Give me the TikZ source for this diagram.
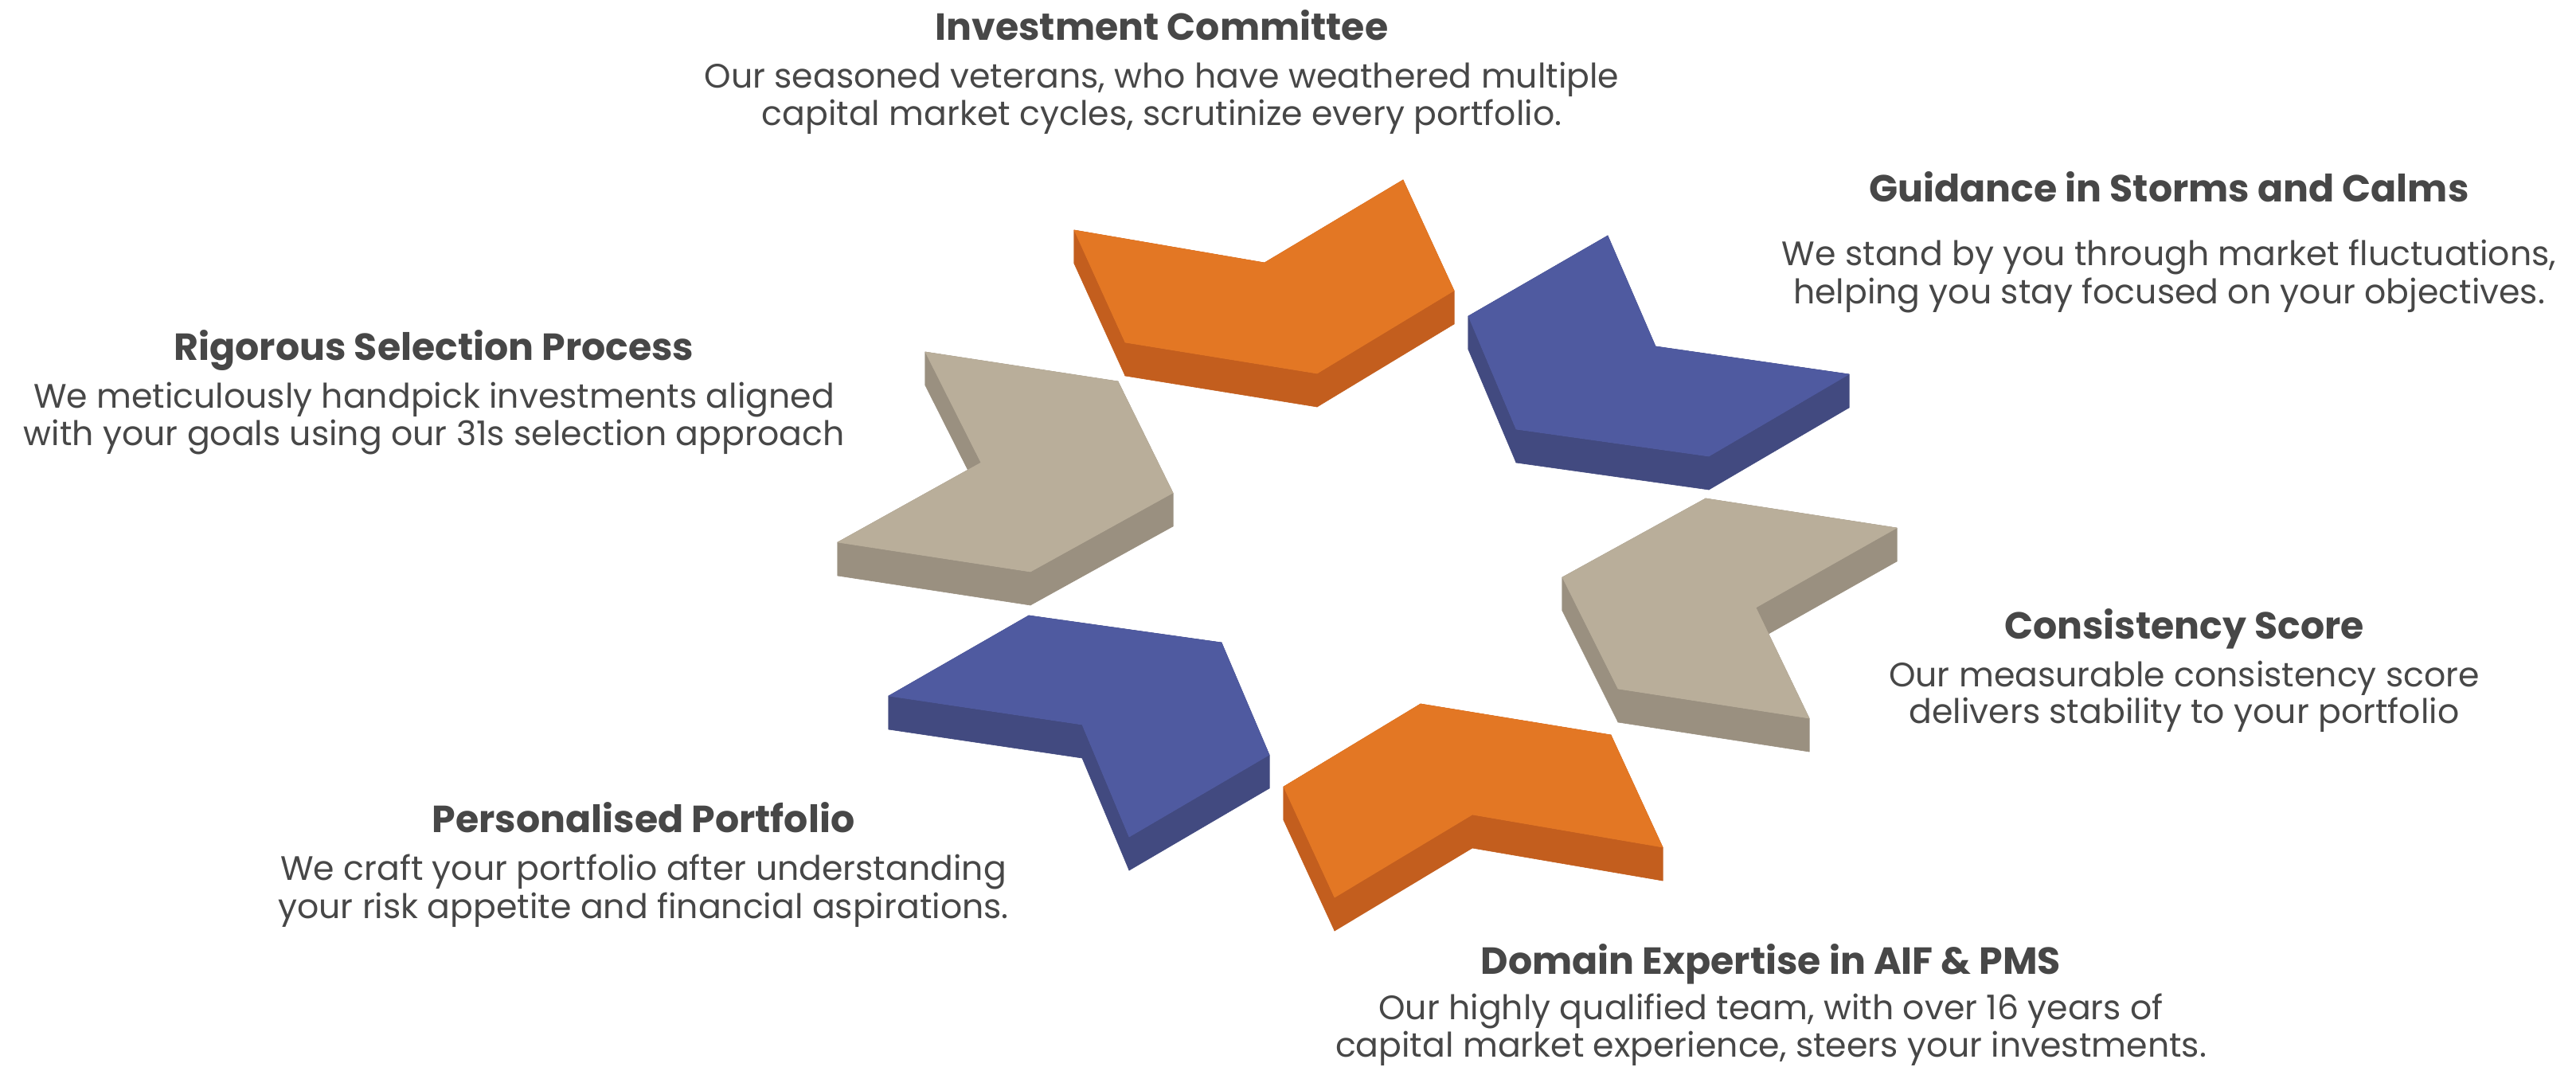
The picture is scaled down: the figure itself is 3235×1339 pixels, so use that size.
\documentclass[tikz,border=0pt]{standalone}
\usepackage{fontspec}
\setmainfont{Poppins}
\usetikzlibrary{calc}
\definecolor{orTop}{HTML}{E37724}
\definecolor{orSide}{HTML}{C35E1E}
\definecolor{blTop}{HTML}{4F5AA0}
\definecolor{blSide}{HTML}{424A80}
\definecolor{bgTop}{HTML}{B9AE9A}
\definecolor{bgSide}{HTML}{9A9080}
\definecolor{txt}{HTML}{474747}
\newcommand\chev[8]{%
  \foreach \p/\q in {#3/#4,#4/#5,#5/#6,#6/#7,#7/#8,#8/#3}{%
    \filldraw[#2, line width=0.15pt, line join=round] (\p) -- (\q) -- ($(\q)+(0,42)$) -- ($(\p)+(0,42)$) -- cycle;}
  \filldraw[#1, line width=0.15pt, line join=round] (#3) -- (#4) -- (#5) -- (#6) -- (#7) -- (#8) -- cycle;}
\begin{document}
\begin{tikzpicture}[x=0.25pt,y=-0.25pt,
  ttl/.style={font=\fontsize{11.85}{14}\selectfont\bfseries, text=txt, anchor=base, inner sep=0pt},
  bdy/.style={font=\fontsize{10.65}{12}\selectfont, text=txt, anchor=base, inner sep=0pt}]
\useasboundingbox (0,0) rectangle (3235,1339);
% orange top
\coordinate (o1a) at (1349,289); \coordinate (o1b) at (1588,330); \coordinate (o1c) at (1762,226);
\coordinate (o1d) at (1826,365); \coordinate (o1e) at (1654,469); \coordinate (o1f) at (1413,430);
\chev{orTop}{orSide}{o1a}{o1b}{o1c}{o1d}{o1e}{o1f}
% blue top right
\coordinate (b1a) at (1844,397); \coordinate (b1b) at (2019,296); \coordinate (b1c) at (2079,435);
\coordinate (b1d) at (2322,470); \coordinate (b1e) at (2146,573); \coordinate (b1f) at (1904,539);
\chev{blTop}{blSide}{b1a}{b1b}{b1c}{b1d}{b1e}{b1f}
% beige left
\coordinate (g2a) at (1162,442); \coordinate (g2b) at (1404,479); \coordinate (g2c) at (1473,619);
\coordinate (g2d) at (1294,718); \coordinate (g2e) at (1052,681); \coordinate (g2f) at (1232,581);
\chev{bgTop}{bgSide}{g2a}{g2b}{g2c}{g2d}{g2e}{g2f}
% beige right
\coordinate (g1a) at (2142,626); \coordinate (g1b) at (2382,663); \coordinate (g1c) at (2205,763);
\coordinate (g1d) at (2272,902); \coordinate (g1e) at (2032,865); \coordinate (g1f) at (1962,725);
\chev{bgTop}{bgSide}{g1a}{g1b}{g1c}{g1d}{g1e}{g1f}
% blue bottom left
\coordinate (b2a) at (1292,773); \coordinate (b2b) at (1534,807); \coordinate (b2c) at (1594,948);
\coordinate (b2d) at (1418,1051); \coordinate (b2e) at (1359,910); \coordinate (b2f) at (1116,874);
\chev{blTop}{blSide}{b2a}{b2b}{b2c}{b2d}{b2e}{b2f}
% orange bottom
\coordinate (o2a) at (1784,884); \coordinate (o2b) at (2023,923); \coordinate (o2c) at (2088,1064);
\coordinate (o2d) at (1849,1023); \coordinate (o2e) at (1676,1127); \coordinate (o2f) at (1612,988);
\chev{orTop}{orSide}{o2a}{o2b}{o2c}{o2d}{o2e}{o2f}
% texts
\node[ttl] (t1) at (1459,50) {Investment Committee};
\node[bdy] (t1a) at (1459,110) {Our seasoned veterans, who have weathered multiple};
\node[bdy] (t1b) at (1459,157) {capital market cycles, scrutinize every portfolio.};
\node[ttl] (t2) at (2724,253) {Guidance in Storms and Calms};
\node[bdy] (t2a) at (2724,333) {We stand by you through market fluctuations,};
\node[bdy] (t2b) at (2724,381) {helping you stay focused on your objectives.};
\node[ttl] (t3) at (545,452) {Rigorous Selection Process};
\node[bdy] (t3a) at (545,512) {We meticulously handpick investments aligned};
\node[bdy] (t3b) at (545,559) {with your goals using our 31s selection approach};
\node[ttl] (t4) at (2743,802) {Consistency Score};
\node[bdy] (t4a) at (2743,862) {Our measurable consistency score};
\node[bdy] (t4b) at (2743,908) {delivers stability to your portfolio};
\node[ttl] (t5) at (808,1045) {Personalised Portfolio};
\node[bdy] (t5a) at (808,1105) {We craft your portfolio after understanding};
\node[bdy] (t5b) at (808,1153) {your risk appetite and financial aspirations.};
\node[ttl] (t6) at (2224,1223) {Domain Expertise in AIF \& PMS};
\node[bdy] (t6a) at (2224,1280) {Our highly qualified team, with over 16 years of};
\node[bdy] (t6b) at (2224,1327) {capital market experience, steers your investments.};
\end{tikzpicture}
\end{document}
